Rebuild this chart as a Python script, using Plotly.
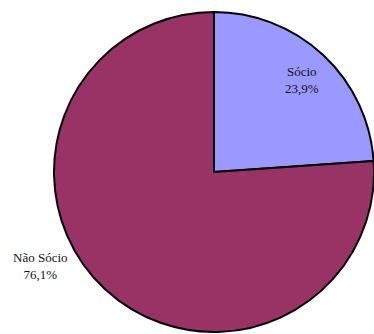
import plotly.graph_objects as go

labels = ["Sócio", "Não Sócio"]
values = [23.9, 76.1]
colors = ["#9999FF", "#993366"]
# label centre positions (paper coords)
label_x = [0.8075, 0.107]
label_y = [0.760, 0.2036]

W, H = 374, 334

fig = go.Figure(go.Pie(
    labels=labels, values=values, sort=False, direction="clockwise", rotation=0,
    marker=dict(colors=colors, line=dict(color="black", width=2)),
    textinfo="none", hoverinfo="label+percent", showlegend=False,
    domain=dict(x=[54 / W, 1.0], y=[2 / H, 322 / H]),
))

for lab, v, x, y in zip(labels, values, label_x, label_y):
    fig.add_annotation(
        x=x, y=y, xref="paper", yref="paper", showarrow=False,
        xanchor="center", yanchor="middle",
        text=f"{lab}<br>{str(v).replace('.', ',')}%",
        font=dict(family="Liberation Serif, Times New Roman, serif", size=13, color="#111111"),
        align="center",
    )

fig.update_layout(
    width=W, height=H, margin=dict(l=0, r=0, t=0, b=0),
    paper_bgcolor="white", plot_bgcolor="white",
)
fig.write_html("out.html", config={"displayModeBar": False})
